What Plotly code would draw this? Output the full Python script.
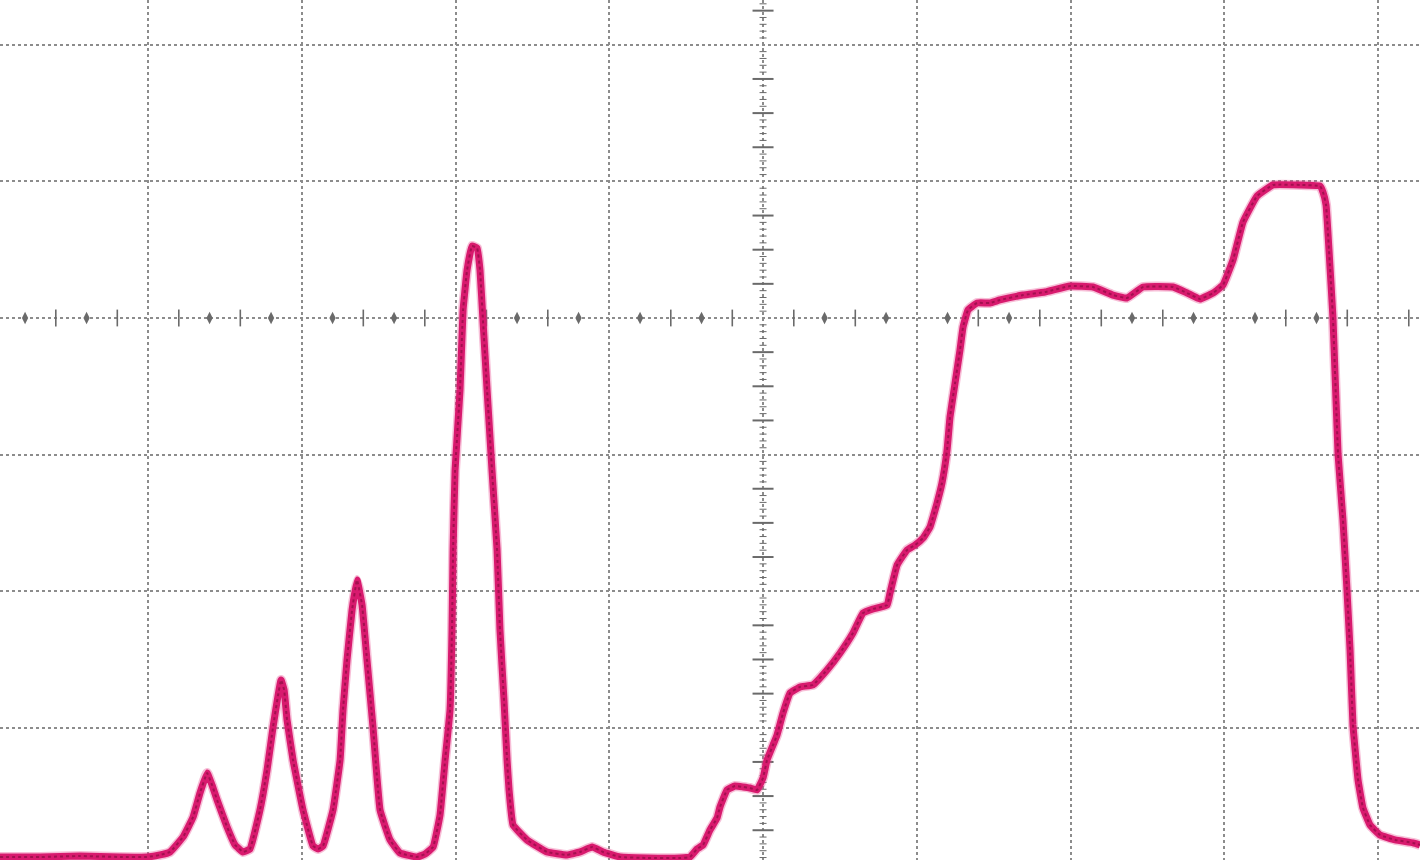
import plotly.graph_objects as go

trace_x = [-4.963, -4.702, -4.442, -4.182, -4.007, -3.922, -3.857, -3.772, -3.707, -3.662,
           -3.616, -3.584, -3.551, -3.486, -3.434, -3.382, -3.337, -3.272, -3.226, -3.187,
           -3.154, -3.135, -3.115, -3.096, -3.057, -2.992, -2.927, -2.894, -2.862, -2.797,
           -2.751, -2.732, -2.706, -2.673, -2.641, -2.608, -2.576, -2.537, -2.491, -2.426,
           -2.361, -2.250, -2.198, -2.146, -2.101, -2.068, -2.036, -2.023, -2.016, -2.003,
           -1.971, -1.951, -1.925, -1.893, -1.860, -1.841, -1.821, -1.795, -1.763, -1.730,
           -1.711, -1.685, -1.665, -1.652, -1.626, -1.535, -1.405, -1.275, -1.190, -1.112,
           -1.041, -0.930, -0.754, -0.540, -0.475, -0.429, -0.390, -0.345, -0.299, -0.280,
           -0.234, -0.182, -0.130, -0.085, -0.039, 0.000, 0.026, 0.065, 0.091, 0.130,
           0.176, 0.241, 0.325, 0.416, 0.501, 0.585, 0.650, 0.715, 0.807, 0.826,
           0.872, 0.937, 0.989, 1.041, 1.086, 1.106, 1.132, 1.164, 1.197, 1.216,
           1.249, 1.281, 1.301, 1.333, 1.392, 1.476, 1.541, 1.691, 1.834, 1.997,
           2.146, 2.276, 2.367, 2.472, 2.667, 2.758, 2.842, 2.927, 2.992, 3.057,
           3.122, 3.213, 3.317, 3.493, 3.623, 3.642, 3.662, 3.681, 3.707, 3.740,
           3.772, 3.798, 3.818, 3.837, 3.870, 3.902, 3.948, 4.013, 4.111, 4.228, 4.273]
trace_y = [-3.946, -3.946, -3.939, -3.946, -3.946, -3.931, -3.909, -3.799, -3.653, -3.477,
           -3.331, -3.419, -3.529, -3.726, -3.858, -3.909, -3.887, -3.602, -3.309, -2.994,
           -2.760, -2.650, -2.723, -2.943, -3.236, -3.602, -3.865, -3.887, -3.865, -3.602,
           -3.236, -2.870, -2.504, -2.138, -1.918, -2.101, -2.504, -2.994, -3.602, -3.821,
           -3.917, -3.946, -3.924, -3.873, -3.638, -3.236, -2.870, -2.284, -1.698, -1.113,
           -0.527, 0.059, 0.351, 0.527, 0.512, 0.351, -0.029, -0.527, -1.113, -1.698,
           -2.284, -2.796, -3.236, -3.455, -3.712, -3.821, -3.909, -3.931, -3.909, -3.873,
           -3.909, -3.946, -3.953, -3.953, -3.946, -3.887, -3.858, -3.748, -3.660, -3.580,
           -3.455, -3.426, -3.433, -3.441, -3.455, -3.367, -3.236, -3.126, -3.053, -2.892,
           -2.745, -2.701, -2.686, -2.577, -2.452, -2.306, -2.160, -2.130, -2.101, -2.013,
           -1.808, -1.698, -1.662, -1.611, -1.530, -1.457, -1.354, -1.208, -0.966, -0.725,
           -0.476, -0.234, -0.066, 0.059, 0.110, 0.110, 0.132, 0.168, 0.190, 0.234,
           0.227, 0.168, 0.146, 0.227, 0.227, 0.183, 0.139, 0.183, 0.242, 0.425,
           0.703, 0.893, 0.974, 0.974, 0.966, 0.922, 0.827, 0.498, 0.000, -0.996,
           -1.479, -1.991, -2.430, -2.979, -3.382, -3.587, -3.712, -3.785, -3.821, -3.843, -3.858]

grid_x = [-4, -3, -2, -1, 0, 1, 2, 3, 4]
grid_y = [-3, -2, -1, 0, 1, 2]
x_range = [-4.963, 4.273]
y_range = [-3.968, 2.328]

fig = go.Figure()

# centre-axis graticule ticks
hx_major, hx_minor = [], []
for k in range(-25, 22):
    v = k * 0.2
    if k % 5 == 0:
        continue
    (hx_major if k % 2 == 0 else hx_minor).append(v)
vy_major, vy_minor = [], []
for k in range(-80, 48):
    v = k * 0.05
    if k % 20 == 0:
        continue
    (vy_major if k % 5 == 0 else vy_minor).append(v)

tick_col = "#6a6a6a"
fig.add_trace(go.Scatter(x=hx_major, y=[0] * len(hx_major), mode="markers", hoverinfo="skip",
                         marker=dict(symbol="diamond-tall", size=9, color=tick_col, line=dict(width=0))))
fig.add_trace(go.Scatter(x=hx_minor, y=[0] * len(hx_minor), mode="markers", hoverinfo="skip",
                         marker=dict(symbol="line-ns", size=12, line=dict(width=1.6, color=tick_col))))
fig.add_trace(go.Scatter(x=[0] * len(vy_major), y=vy_major, mode="markers", hoverinfo="skip",
                         marker=dict(symbol="line-ew", size=15, line=dict(width=2, color=tick_col))))
fig.add_trace(go.Scatter(x=[0] * len(vy_minor), y=vy_minor, mode="markers", hoverinfo="skip",
                         marker=dict(symbol="line-ew", size=5, line=dict(width=1, color=tick_col))))

# the signal: soft halo, main band, darker speckled core
fig.add_trace(go.Scatter(x=trace_x, y=trace_y, mode="lines", hoverinfo="skip",
                         line=dict(color="rgba(232,70,140,0.35)", width=10, shape="spline", smoothing=0.3)))
fig.add_trace(go.Scatter(x=trace_x, y=trace_y, mode="lines", hoverinfo="skip",
                         line=dict(color="#d81a6e", width=7, shape="spline", smoothing=0.3)))
fig.add_trace(go.Scatter(x=trace_x, y=trace_y, mode="lines", hoverinfo="skip",
                         line=dict(color="rgba(120,8,55,0.55)", width=2, dash="dot",
                                   shape="spline", smoothing=0.3)))

axis_common = dict(showticklabels=False, ticks="", showgrid=True, gridcolor="#8c8c8c",
                   griddash="dot", gridwidth=1.6, zeroline=False, showline=False, fixedrange=True)
fig.update_xaxes(range=x_range, tickvals=grid_x, **axis_common)
fig.update_yaxes(range=y_range, tickvals=grid_y, **axis_common)
fig.update_layout(width=1420, height=860, margin=dict(l=0, r=0, t=0, b=0),
                  plot_bgcolor="white", paper_bgcolor="white", showlegend=False)

fig.write_html("out.html", config={"displayModeBar": False},
               post_script="document.body.style.margin='0';")
